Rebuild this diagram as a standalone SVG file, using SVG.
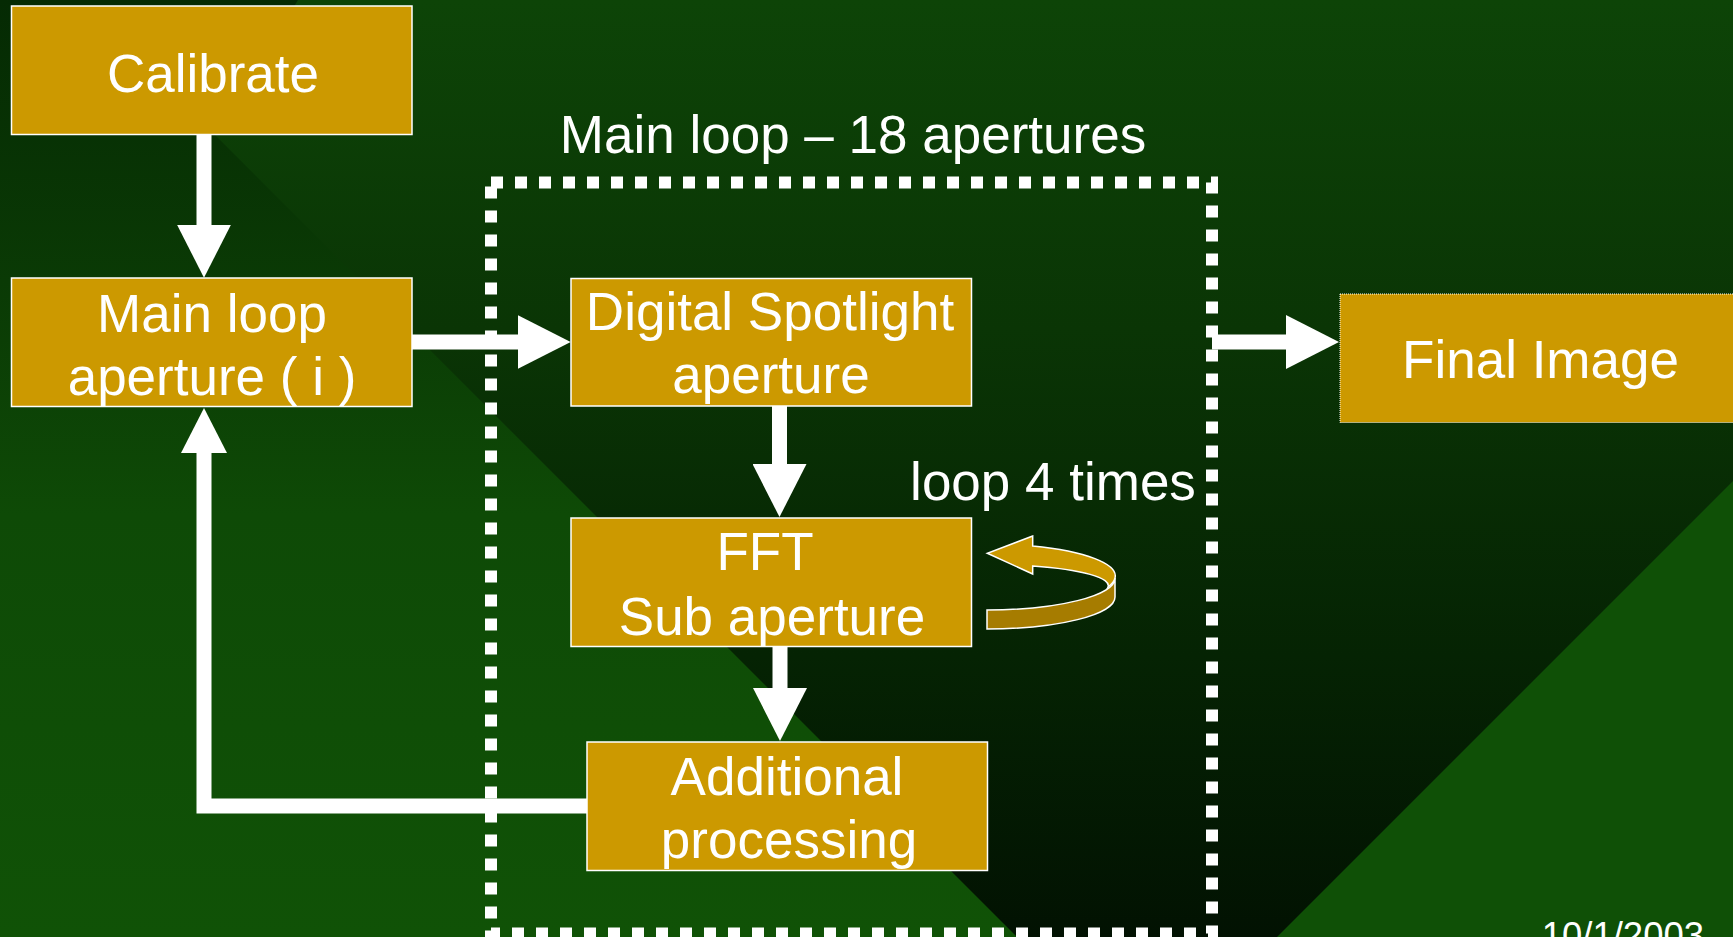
<svg xmlns="http://www.w3.org/2000/svg" width="1733" height="937" viewBox="0 0 1733 937">
  <defs>
    <linearGradient id="bg" gradientUnits="userSpaceOnUse" x1="0" y1="0" x2="0" y2="937">
      <stop offset="0" stop-color="#0d4407"/>
      <stop offset="0.35" stop-color="#0a3505"/>
      <stop offset="0.7" stop-color="#052303"/>
      <stop offset="1" stop-color="#021202"/>
    </linearGradient>
    <linearGradient id="tri" gradientUnits="userSpaceOnUse" x1="0" y1="0" x2="0" y2="937">
      <stop offset="0" stop-color="#052a03"/>
      <stop offset="0.3" stop-color="#0a3a05"/>
      <stop offset="0.55" stop-color="#0e4a06"/>
      <stop offset="1" stop-color="#105206"/>
    </linearGradient>
    <marker id="ah" markerUnits="userSpaceOnUse" markerWidth="54" markerHeight="54" viewBox="0 0 54 54" refX="5" refY="27" orient="auto">
      <path d="M0,0 L53,27 L0,54 Z" fill="#ffffff"/>
    </marker>
    <marker id="ah2" markerUnits="userSpaceOnUse" markerWidth="46" markerHeight="46" viewBox="0 0 46 46" refX="5" refY="23" orient="auto">
      <path d="M0,0 L45,23 L0,46 Z" fill="#ffffff"/>
    </marker>
  </defs>
  <style>
    .box { fill: #cc9900; stroke: #ffffff; stroke-width: 1.5; }
    .lbl { font-family: "Liberation Sans", Arial, sans-serif; font-size: 53px; fill: #ffffff; text-anchor: middle; }
    .conn { fill: none; stroke: #ffffff; stroke-width: 15; }
  </style>

  <!-- background -->
  <rect x="0" y="0" width="1733" height="937" fill="url(#bg)"/>
  <polygon points="0,0 298,0 215,135 1017,937 0,937" fill="url(#tri)"/>
  <polygon points="1733,481 1733,937 1277,937" fill="#0f5006"/>

  <!-- main loop frame -->
  <g id="main-loop-frame">
    <rect x="491" y="182.5" width="721" height="751" fill="none" stroke="#ffffff" stroke-width="12" stroke-dasharray="12 12"/>
    <text class="lbl" x="853" y="153">Main loop – 18 apertures</text>
  </g>

  <g id="connectors">
    <line class="conn" x1="204" y1="135" x2="204" y2="229.7" marker-end="url(#ah)"/>
    <line class="conn" x1="412" y1="342" x2="522.7" y2="342" marker-end="url(#ah)"/>
    <line class="conn" x1="779.5" y1="406" x2="779.5" y2="469" marker-end="url(#ah)"/>
    <line class="conn" x1="780" y1="647" x2="780" y2="693" marker-end="url(#ah)"/>
    <polyline class="conn" points="587,806 204,806 204,448" marker-end="url(#ah2)"/>
    <line class="conn" x1="1212" y1="342" x2="1291" y2="342" marker-end="url(#ah)"/>
  </g>

  <g id="calibrate">
    <rect class="box" x="11.5" y="6" width="400.5" height="128.5"/>
    <text class="lbl" x="213" y="92">Calibrate</text>
  </g>

  <g id="main-loop-aperture">
    <rect class="box" x="11.5" y="278" width="400.5" height="128.5"/>
    <text class="lbl" x="212" y="332">Main loop</text>
    <text class="lbl" x="212" y="395">aperture ( i )</text>
  </g>

  <g id="digital-spotlight">
    <rect class="box" x="571" y="278.5" width="400.5" height="127.5"/>
    <text class="lbl" x="770" y="330">Digital Spotlight</text>
    <text class="lbl" x="771" y="393">aperture</text>
  </g>

  <g id="fft">
    <rect class="box" x="571" y="518" width="400.5" height="128.5"/>
    <text class="lbl" x="765" y="570">FFT</text>
    <text class="lbl" x="772" y="635">Sub aperture</text>
  </g>

  <g id="loop-4-times">
    <text class="lbl" x="1053" y="500">loop 4 times</text>
    <path d="M1115,578 A128,32 0 0 1 987,610 L987,629 A128,32 0 0 0 1115,597 Z" fill="#a67c00" stroke="#ffffff" stroke-width="1.5"/>
    <path d="M1032.7,536 L987.3,553.3 L1032.7,574 L1032.7,566 A121,21 0 0 1 1108,587 A128,32 0 0 0 1115,578 A128,32 0 0 0 1032.7,546 Z" fill="#cc9900" stroke="#ffffff" stroke-width="1.5"/>
  </g>

  <g id="additional-processing">
    <rect class="box" x="587" y="742" width="400.5" height="128.5"/>
    <text class="lbl" x="787" y="795">Additional</text>
    <text class="lbl" x="789" y="858">processing</text>
  </g>

  <g id="final-image">
    <rect x="1340" y="294" width="401" height="128.5" fill="#cc9900" stroke="#ffffff" stroke-width="1" stroke-dasharray="1 1"/>
    <text class="lbl" x="1540.5" y="378">Final Image</text>
  </g>

  <text x="1541.7" y="948" font-family="Liberation Sans, Arial, sans-serif" font-size="36.5" fill="#ffffff">10/1/2003</text>
</svg>
